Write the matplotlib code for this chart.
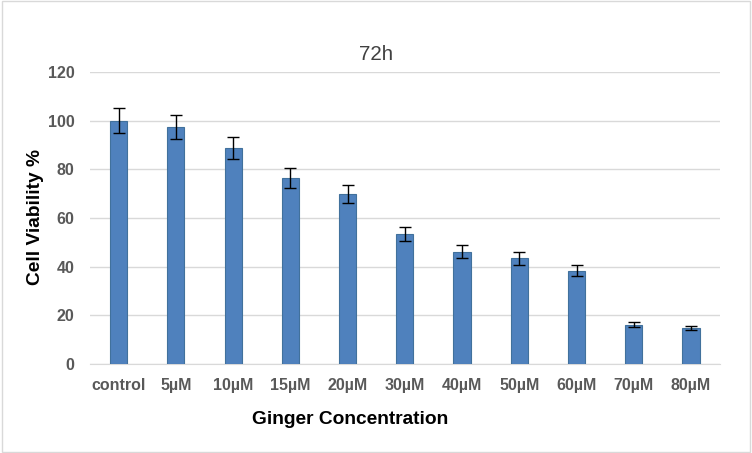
import matplotlib
matplotlib.use("Agg")
import matplotlib.pyplot as plt
import numpy as np

plt.rcParams['font.family'] = ['Liberation Sans', 'DejaVu Sans']

categories = ["control", "5µM", "10µM", "15µM", "20µM", "30µM", "40µM", "50µM", "60µM", "70µM", "80µM"]
viability = [100, 97.5, 88.8, 76.5, 70, 53.4, 46.2, 43.4, 38.4, 16.2, 14.8]
errors = [5.2, 5.0, 4.6, 4.1, 3.7, 3.0, 2.7, 2.6, 2.2, 1.0, 0.9]
yticks = [0, 20, 40, 60, 80, 100, 120]

fig = plt.figure(figsize=(7.52, 4.53), dpi=100)
ax = fig.add_axes([0.1197, 0.1965, 0.8373, 0.6445])
x = np.arange(len(categories))
ax.bar(x, viability, width=0.3, color="#4F81BD", edgecolor="#41719C", linewidth=0.8, zorder=3)
ax.errorbar(x, viability, yerr=errors, fmt="none", ecolor="black", elinewidth=1, capsize=4, capthick=1, zorder=4)

ax.set_xlim(-0.5, len(categories) - 0.5)
ax.set_ylim(0, 120)
ax.set_yticks(yticks)
ax.set_xticks(x)
ax.set_xticklabels(categories)
ax.grid(axis="y", color="#D9D9D9", linewidth=1, zorder=0)
for s in ["top", "right", "left"]:
    ax.spines[s].set_visible(False)
ax.spines["bottom"].set_color("#D9D9D9")
ax.tick_params(axis="both", length=0, colors="#595959", labelsize=11.5)
ax.tick_params(axis="y", pad=11)
ax.tick_params(axis="x", pad=10)
for lbl in ax.get_xticklabels() + ax.get_yticklabels():
    lbl.set_fontweight("bold")
fig.text(0.5, 1 - 55 / 453, "72h", fontsize=14.8, color="#404040", ha="center", va="center")
fig.text(35 / 752, 1 - 217 / 453, "Cell Viability %", fontsize=13.8, fontweight="bold", color="black",
         rotation=90, ha="center", va="center")
fig.text(350 / 752, 1 - 420 / 453, "Ginger Concentration", fontsize=13.8, fontweight="bold", color="black",
         ha="center", va="center")

border = plt.Rectangle((0.002, 0.002), 0.996, 0.996, transform=fig.transFigure, fill=False, edgecolor="#D9D9D9", linewidth=1)
fig.patches.append(border)
fig.savefig("out.png", dpi=100)
